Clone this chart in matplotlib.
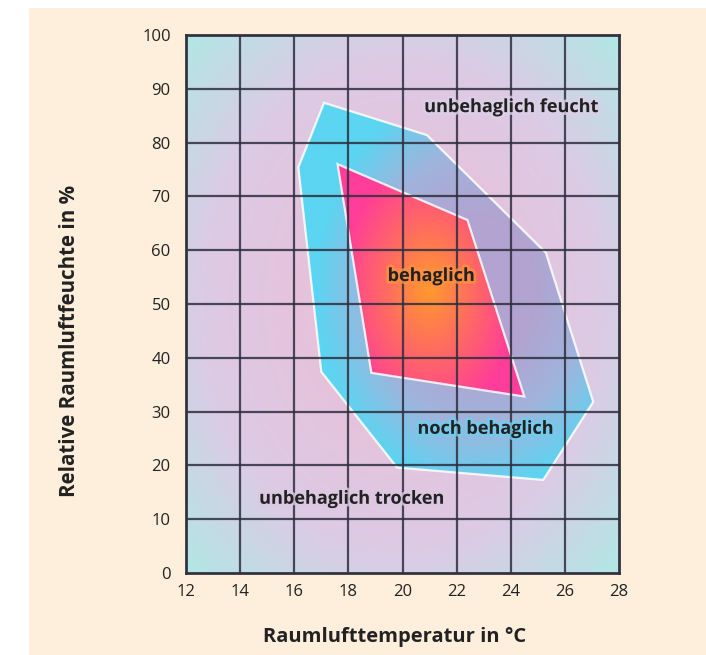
import numpy as np
import matplotlib
matplotlib.use("Agg")
import matplotlib.pyplot as plt
from matplotlib.patches import Polygon, Rectangle
from matplotlib.colors import LinearSegmentedColormap
import matplotlib.patheffects as pe

plt.rcParams['font.family'] = ['Open Sans', 'DejaVu Sans']

# comfort zones (temperature in C, relative humidity in %)
outer_t = [17.1, 20.9, 25.3, 27.05, 25.2, 19.8, 17.0, 16.15]
outer_rh = [87.4, 81.4, 59.5, 31.8, 17.3, 19.6, 37.4, 75.4]
inner_t = [17.6, 22.4, 24.5, 18.85]
inner_rh = [76.0, 65.6, 32.8, 37.2]

xticks = [12, 14, 16, 18, 20, 22, 24, 26, 28]
yticks = [0, 10, 20, 30, 40, 50, 60, 70, 80, 90, 100]

labels = ["unbehaglich feucht", "behaglich", "noch behaglich", "unbehaglich trocken"]
label_t = [24.0, 21.05, 23.05, 18.1]
label_rh = [86.6, 55.2, 26.8, 13.8]

fig = plt.figure(figsize=(7.06, 6.55), dpi=100)
fig.patch.set_facecolor('white')
fig.patches.append(Rectangle((29 / 706, 0), 1, 1 - 8 / 655, transform=fig.transFigure,
                             facecolor='#feefdc', edgecolor='none', zorder=-10))

ax = fig.add_axes([186 / 706, 82 / 655, 433 / 706, 538 / 655])
ax.set_xlim(12, 28)
ax.set_ylim(0, 100)

# gradient grids
gx = np.linspace(12, 28, 400)
gy = np.linspace(0, 100, 400)
X, Y = np.meshgrid(gx, gy)
ext = (12, 28, 0, 100)

# background: pink in the middle, cyan towards the corners
bg_cmap = LinearSegmentedColormap.from_list('bg', ['#e6c2dc', '#dccbe4', '#b2e6e4'])
d = np.sqrt(((X - 20) / 8) ** 2 + ((Y - 50) / 50) ** 2)
ax.imshow(np.clip((d - 0.45) / 0.95, 0, 1), cmap=bg_cmap, extent=ext, origin='lower',
          aspect='auto', vmin=0, vmax=1, zorder=0, interpolation='bilinear')

# outer zone: lavender near the core, cyan outside
out_cmap = LinearSegmentedColormap.from_list('out', ['#b2a3d0', '#a0b4dc', '#5bd5f2'])
d2 = np.sqrt(((X - 22.8) / 6) ** 2 + ((Y - 53) / 38) ** 2)
outer_poly = Polygon(np.column_stack([outer_t, outer_rh]), closed=True,
                     facecolor='none', edgecolor='none')
ax.add_patch(outer_poly)
im = ax.imshow(np.clip((d2 - 0.35) / 0.65, 0, 1), cmap=out_cmap, extent=ext, origin='lower',
               aspect='auto', vmin=0, vmax=1, zorder=1, interpolation='bilinear')
im.set_clip_path(outer_poly)
ax.add_patch(Polygon(np.column_stack([outer_t, outer_rh]), closed=True,
                     facecolor='none', edgecolor='white', lw=1.6, alpha=0.85, zorder=3))

# inner zone: orange core, pink edges
in_cmap = LinearSegmentedColormap.from_list('in', ['#ff9a2c', '#ff6a62', '#ff3d9a'])
d3 = np.sqrt(((X - 21.0) / 3.0) ** 2 + ((Y - 53) / 22) ** 2)
inner_poly = Polygon(np.column_stack([inner_t, inner_rh]), closed=True,
                     facecolor='none', edgecolor='none')
ax.add_patch(inner_poly)
im2 = ax.imshow(np.clip(d3 / 1.1, 0, 1), cmap=in_cmap, extent=ext, origin='lower',
                aspect='auto', vmin=0, vmax=1, zorder=2, interpolation='bilinear')
im2.set_clip_path(inner_poly)
ax.add_patch(Polygon(np.column_stack([inner_t, inner_rh]), closed=True,
                     facecolor='none', edgecolor='white', lw=1.6, alpha=0.85, zorder=3))

# grid
for xv in xticks[1:-1]:
    ax.axvline(xv, color='#2e2e3e', lw=1.6, alpha=0.85, zorder=4)
for yv in yticks[1:-1]:
    ax.axhline(yv, color='#2e2e3e', lw=1.6, alpha=0.85, zorder=4)

for s in ax.spines.values():
    s.set_linewidth(2)
    s.set_color('#333340')
    s.set_zorder(6)

ax.set_xticks(xticks)
ax.set_yticks(yticks)
ax.tick_params(axis='both', length=0, labelsize=12, colors='#222222')
ax.tick_params(axis='x', pad=8)
ax.tick_params(axis='y', pad=11)
ax.set_xlabel('Raumlufttemperatur in °C', fontsize=14.5, fontweight='bold', color='#222222')
ax.set_ylabel('Relative Raumluftfeuchte in %', fontsize=14.8, fontweight='bold', color='#222222')
ax.xaxis.set_label_coords(0.482, -0.1)
ax.yaxis.set_label_coords(-0.245, 0.431)

halo_cols = ['#dcd0e6', '#ff9040', '#70cdee', '#dcc8e2']
for txt, tx, ty, hc in zip(labels, label_t, label_rh, halo_cols):
    ax.text(tx, ty, txt, ha='center', va='center', fontsize=13, fontweight='bold',
            color='#222222', zorder=7,
            path_effects=[pe.withStroke(linewidth=4, foreground=hc, alpha=0.8)])

fig.savefig('out.png', dpi=100)
